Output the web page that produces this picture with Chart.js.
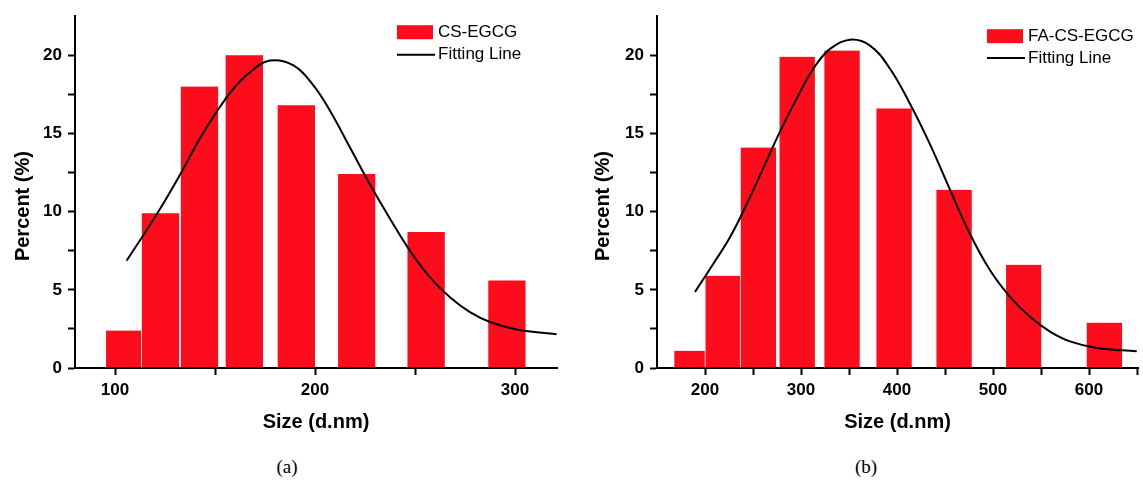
<!DOCTYPE html>
<html>
<head>
<meta charset="utf-8">
<script src="https://cdn.jsdelivr.net/npm/chart.js@4/dist/chart.umd.min.js"></script>
<style>
  html, body { margin: 0; padding: 0; background: #fff; }
  body { width: 1143px; height: 482px; position: relative; overflow: hidden; }
  .box { position: absolute; top: 0; height: 440px; }
  #boxA { left: 0; width: 570px; }
  #boxB { left: 580px; width: 563px; }
  .cap { position: absolute; top: 456px; font: 19px "Liberation Serif", "DejaVu Serif", serif; color: #000; transform: translateX(-50%); }
</style>
</head>
<body>
<div class="box" id="boxA"><canvas id="chartA"></canvas></div>
<div class="box" id="boxB"><canvas id="chartB"></canvas></div>
<div class="cap" style="left:287px">(a)</div>
<div class="cap" style="left:866px">(b)</div>
<script>
// ---- Data: panel (a) CS-EGCG ----
const sizeA = [104.7, 122.6, 142.1, 164.5, 190.5, 220.7, 255.4, 295.8];
const percentA = [2.4, 9.9, 18.0, 20.0, 16.8, 12.4, 8.7, 5.6];
const fitSizeA = [105.8, 120.8, 132.5, 142.5, 150.8, 159.2, 167.5, 177.5, 189.2, 199.2, 207.5, 217.5, 227.5, 237.5, 247.5, 257.5, 267.5, 277.5, 287.5, 300.8, 320.8];
const fitPercentA = [6.86, 9.82, 12.36, 14.69, 16.38, 17.86, 18.92, 19.66, 19.35, 18.08, 16.45, 14.1, 11.73, 9.55, 7.49, 5.80, 4.53, 3.57, 2.94, 2.46, 2.16];
const xTicksA = [100, 150, 200, 250, 300];
const xLabelsA = [100, 200, 300];

// ---- Data: panel (b) FA-CS-EGCG ----
const sizeB = [186.1, 218.6, 255.3, 295.7, 342.4, 396.6, 459.1, 531.6, 615.7];
const percentB = [1.1, 5.9, 14.1, 19.9, 20.3, 16.6, 11.4, 6.6, 2.9];
const fitSizeB = [189.6, 208.7, 226, 243.4, 260.8, 278.1, 295.5, 312.8, 330.2, 351, 371.9, 392.7, 413.5, 434.4, 455.2, 476, 496.9, 517.7, 538.5, 559.4, 580.2, 608, 649.7];
const fitPercentB = [4.87, 6.67, 8.36, 10.47, 12.80, 15.12, 17.23, 19.14, 20.41, 21.0, 20.62, 19.14, 16.9, 14.3, 11.4, 8.57, 6.25, 4.55, 3.28, 2.33, 1.70, 1.28, 1.07];
const xTicksB = [200, 250, 300, 350, 400, 450, 500, 550, 600, 650];
const xLabelsB = [200, 300, 400, 500, 600];

// ---- Shared y ticks ----
const yTicks = [0, 2.5, 5, 7.5, 10, 12.5, 15, 17.5, 20];
const yLabels = [0, 5, 10, 15, 20];

const seriesNames = { a: 'CS-EGCG', b: 'FA-CS-EGCG', fit: 'Fitting Line' };
const xTitle = 'Size (d.nm)';
const yTitle = 'Percent (%)';

const RED = '#fd0d1b';
const FONT = '"Liberation Sans", Arial, sans-serif';

Chart.defaults.font.family = FONT;
Chart.defaults.color = '#000';

const insideLegend = {
  id: 'insideLegend',
  afterDatasetsDraw(chart, args, opts) {
    const ctx = chart.ctx, a = chart.chartArea;
    const x = a.right + opts.dx, y = a.top + opts.dy;
    const ds = chart.data.datasets;
    ctx.save();
    ctx.font = '17px ' + FONT;
    ctx.textBaseline = 'middle';
    ctx.textAlign = 'left';
    ctx.fillStyle = RED;
    ctx.fillRect(x, y, 36, 14);
    ctx.fillStyle = '#000';
    ctx.fillText(ds[1].label, x + 41, y + 7.5);
    ctx.strokeStyle = '#000';
    ctx.lineWidth = 2;
    ctx.beginPath();
    ctx.moveTo(x, y + opts.lineDy);
    ctx.lineTo(x + 38, y + opts.lineDy);
    ctx.stroke();
    ctx.fillText(ds[0].label, x + 41, y + opts.lineDy);
    ctx.restore();
  }
};

// shifts the rotated y-axis title downward so it sits where the reference has it
const yTitleShift = {
  id: 'yTitleShift',
  beforeDraw(chart) { chart.ctx.save(); },
  afterDraw(chart) { chart.ctx.restore(); }
};

function makeChart(id, p) {
  const bars = p.sizes.map((s, i) => ({ x: s, y: p.values[i] }));
  const fit = p.fitX.map((s, i) => ({ x: s, y: p.fitY[i] }));
  return new Chart(document.getElementById(id), {
    data: {
      datasets: [
        {
          type: 'line', label: seriesNames.fit, data: fit, order: 0,
          borderColor: '#000', borderWidth: 2, pointRadius: 0,
          tension: 0.4, fill: false
        },
        {
          type: 'bar', label: p.name, data: bars, order: 1,
          backgroundColor: RED, borderColor: '#fff',
          borderWidth: { left: 1, right: 0, top: 0, bottom: 0 },
          borderSkipped: false,
          barThickness: p.barPx, grouped: false
        }
      ]
    },
    options: {
      responsive: true, maintainAspectRatio: false, animation: false,
      devicePixelRatio: 1,
      layout: { padding: { top: 14, right: p.padRight, left: 0, bottom: 0 } },
      plugins: {
        legend: { display: false }, tooltip: { enabled: false },
        insideLegend: p.legend
      },
      scales: {
        x: {
          type: 'linear', min: p.xMin, max: p.xMax, offset: false,
          afterFit: s => { s.height = 72; },
          afterBuildTicks: s => { s.ticks = p.xTicks.map(v => ({ value: v })); },
          grid: { display: true, drawOnChartArea: false, drawTicks: true, tickLength: 7, tickWidth: 2, tickColor: '#000', offset: false },
          border: { display: true, color: '#000', width: 2 },
          ticks: {
            autoSkip: false, maxRotation: 0, padding: 5,
            font: { size: 17, weight: 'bold' }, color: '#000',
            callback: v => (p.xLabels.includes(v) ? String(v) : '')
          },
          title: { display: true, text: xTitle, font: { size: 20, weight: 'bold' }, color: '#000', padding: { top: 0, bottom: 6 } }
        },
        y: {
          type: 'linear', min: 0, max: 22.5,
          afterFit: s => { s.width = p.yWidth; },
          afterBuildTicks: s => { s.ticks = yTicks.map(v => ({ value: v })); },
          grid: { display: true, drawOnChartArea: false, drawTicks: true, tickLength: 7, tickWidth: 2, tickColor: '#000' },
          border: { display: true, color: '#000', width: 2 },
          ticks: {
            autoSkip: false, padding: 6,
            font: { size: 17, weight: 'bold' }, color: '#000',
            callback: v => (yLabels.includes(v) ? String(v) : '')
          },
          title: { display: false }
        }
      }
    },
    plugins: [insideLegend, {
      id: 'yTitle',
      afterDraw(chart) {
        const ctx = chart.ctx, a = chart.chartArea;
        ctx.save();
        ctx.translate(23, (a.top + a.bottom) / 2 + 14);
        ctx.rotate(-Math.PI / 2);
        ctx.font = 'bold 20px ' + FONT;
        ctx.fillStyle = '#000';
        ctx.textAlign = 'center';
        ctx.textBaseline = 'middle';
        ctx.fillText(yTitle, 0, 0);
        ctx.restore();
      }
    }]
  });
}

makeChart('chartA', {
  name: seriesNames.a, sizes: sizeA, values: percentA, fitX: fitSizeA, fitY: fitPercentA,
  xMin: 80, xMax: 321, xTicks: xTicksA, xLabels: xLabelsA,
  barPx: 38, padRight: 13, yWidth: 75,
  legend: { dx: -160, dy: 9, lineDy: 29.5 }
});
makeChart('chartB', {
  name: seriesNames.b, sizes: sizeB, values: percentB, fitX: fitSizeB, fitY: fitPercentB,
  xMin: 150, xMax: 651, xTicks: xTicksB, xLabels: xLabelsB,
  barPx: 36, padRight: 5, yWidth: 77,
  legend: { dx: -151, dy: 13, lineDy: 28.7 }
});
</script>
</body>
</html>
